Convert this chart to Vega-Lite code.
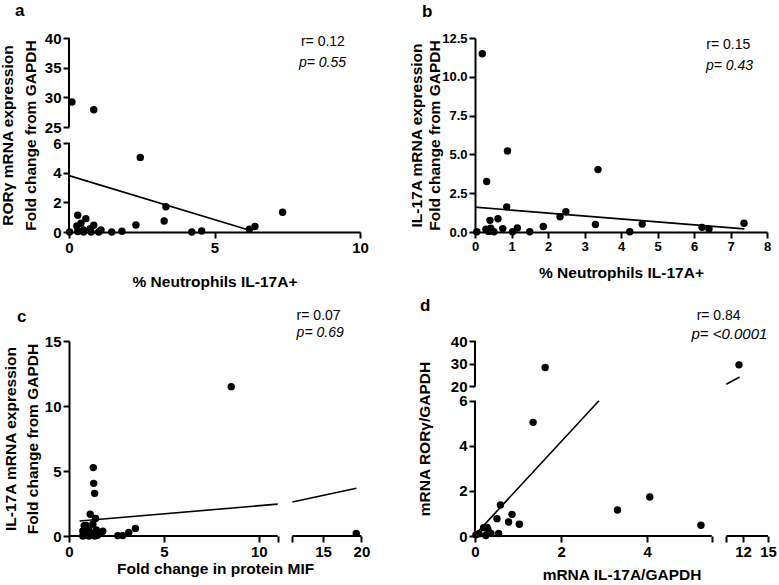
{
  "$schema": "https://vega.github.io/schema/vega-lite/v6.json",
  "padding": {"left": 0, "top": 2, "right": 0, "bottom": 0},
  "background": "white",
  "columns": 2,
  "align": "all",
  "bounds": "flush",
  "spacing": {"column": 113, "row": 108},
  "config": {
    "view": {"stroke": null},
    "font": "Liberation Sans",
    "axis": {
      "grid": false,
      "domainColor": "black", "domainWidth": 2,
      "tickColor": "black", "tickWidth": 2, "tickSize": 6,
      "labelColor": "black", "labelFont": "Liberation Sans", "labelFontWeight": "bold", "labelFontSize": 15, "labelPadding": 2,
      "labelFlush": false, "labelOverlap": false, "labelBound": false,
      "titleColor": "black", "titleFont": "Liberation Sans", "titleFontWeight": "bold", "titleFontSize": 15.5
    },
    "title": {"anchor": "start", "frame": "group", "fontSize": 17, "fontWeight": "bold", "font": "Liberation Sans", "color": "black"}
  },
  "concat": [
    {
      "width": 291, "height": 194,
      "title": {"text": "a", "dx": -54, "offset": 11},
      "resolve": {"axis": {"x": "independent", "y": "independent"}},
      "layer": [
        {
          "encoding": {
            "x": {"field": "x", "type": "quantitative", "scale": {"domain": [0, 10], "nice": false, "zero": false},
                  "axis": {"values": [0, 5, 10], "title": "% Neutrophils IL-17A+", "titlePadding": 19}},
            "y": {"field": "y", "type": "quantitative", "scale": {"domain": [0, 6, 25, 40], "range": [194, 105, 89, 0], "nice": false, "zero": false},
                  "axis": {"values": [0, 2, 4, 6, 25, 30, 35, 40], "domain": false, "title": ["RORγ mRNA expression", "Fold change from GAPDH"], "titleLineHeight": 23, "titlePadding": 6}}
          },
          "layer": [
            {"data": {"values": [
              {"x": 0.1, "y": 29.2}, {"x": 0.85, "y": 27.9}, {"x": 2.45, "y": 5.03}, {"x": 3.33, "y": 1.7}, {"x": 3.27, "y": 0.74},
              {"x": 7.34, "y": 1.33}, {"x": 6.39, "y": 0.37}, {"x": 6.2, "y": 0.18}, {"x": 4.56, "y": 0.07}, {"x": 4.22, "y": 0},
              {"x": 2.3, "y": 0.47}, {"x": 1.82, "y": 0.05}, {"x": 1.47, "y": 0}, {"x": 1.1, "y": 0.14}, {"x": 1.02, "y": 0},
              {"x": 0.85, "y": 0.45}, {"x": 0.73, "y": 0.23}, {"x": 0.76, "y": 0}, {"x": 0.58, "y": 0.9}, {"x": 0.3, "y": 1.13},
              {"x": 0.41, "y": 0.59}, {"x": 0.27, "y": 0.41}, {"x": 0.5, "y": 0.14}, {"x": 0.3, "y": 0.03}, {"x": 0.02, "y": 0},
              {"x": 0.5, "y": 0}
            ]},
             "mark": {"type": "circle", "color": "black", "size": 55, "opacity": 1}},
            {"data": {"values": [{"x": 0, "y": 3.8}, {"x": 6.15, "y": 0.15}]},
             "mark": {"type": "line", "color": "black", "strokeWidth": 1.6}}
          ]
        },
        {"data": {"values": [{"seg": "lower"}]}, "mark": {"type": "rule", "color": "black", "strokeWidth": 2},
         "encoding": {"x": {"datum": 0, "axis": null}, "y": {"datum": 0, "axis": null}, "y2": {"datum": 6}}},
        {"data": {"values": [{"seg": "upper"}]}, "mark": {"type": "rule", "color": "black", "strokeWidth": 2},
         "encoding": {"x": {"datum": 0, "axis": null}, "y": {"datum": 25, "axis": null}, "y2": {"datum": 40}}},
        {"data": {"values": [{"t": "r= 0.12"}]}, "mark": {"type": "text", "align": "left", "baseline": "middle", "fontSize": 14, "font": "Liberation Sans", "fill": "black"},
         "encoding": {"x": {"datum": 7.97, "axis": null}, "y": {"datum": 39.37, "axis": null}, "text": {"field": "t", "type": "nominal"}}},
        {"data": {"values": [{"t": "p= 0.55"}]}, "mark": {"type": "text", "align": "left", "baseline": "middle", "fontSize": 14, "font": "Liberation Sans", "fontStyle": "italic", "fill": "black"},
         "encoding": {"x": {"datum": 7.9, "axis": null}, "y": {"datum": 35.8, "axis": null}, "text": {"field": "t", "type": "nominal"}}}
      ]
    },
    {
      "width": 292, "height": 194,
      "title": {"text": "b", "dx": -53, "offset": 11},
      "resolve": {"axis": {"x": "independent", "y": "independent"}},
      "layer": [
        {
          "encoding": {
            "x": {"field": "x", "type": "quantitative", "scale": {"domain": [0, 8], "nice": false, "zero": false},
                  "axis": {"values": [0, 1, 2, 3, 4, 5, 6, 7, 8], "labelFontSize": 13, "title": "% Neutrophils IL-17A+", "titlePadding": 12}},
            "y": {"field": "y", "type": "quantitative", "scale": {"domain": [0, 12.5], "nice": false, "zero": false},
                  "axis": {"values": [0, 2.5, 5, 7.5, 10, 12.5], "format": ".1f", "labelFontSize": 13, "title": ["IL-17A mRNA expression", "Fold change from GAPDH"], "titleLineHeight": 18, "titlePadding": -1}}
          },
          "layer": [
            {"data": {"values": [
              {"x": 0.2, "y": 11.49}, {"x": 0.89, "y": 5.22}, {"x": 0.32, "y": 3.25}, {"x": 3.37, "y": 4.02}, {"x": 0.87, "y": 1.62},
              {"x": 2.49, "y": 1.31}, {"x": 2.33, "y": 0.98}, {"x": 3.3, "y": 0.49}, {"x": 4.58, "y": 0.51}, {"x": 4.24, "y": 0.02},
              {"x": 6.22, "y": 0.3}, {"x": 6.41, "y": 0.2}, {"x": 7.37, "y": 0.56}, {"x": 1.87, "y": 0.35}, {"x": 1.5, "y": 0.02},
              {"x": 1.16, "y": 0.26}, {"x": 1.03, "y": 0.02}, {"x": 0.63, "y": 0.85}, {"x": 0.41, "y": 0.75}, {"x": 0.76, "y": 0.22},
              {"x": 0.3, "y": 0.18}, {"x": 0.43, "y": 0.24}, {"x": 0.52, "y": 0.02}, {"x": 0.05, "y": 0.02}, {"x": 0.37, "y": 0.04}
            ]},
             "mark": {"type": "circle", "color": "black", "size": 55, "opacity": 1}},
            {"data": {"values": [{"x": 0, "y": 1.6}, {"x": 7.38, "y": 0.2}]},
             "mark": {"type": "line", "color": "black", "strokeWidth": 1.6}}
          ]
        },
        {"data": {"values": [{"t": "r= 0.15"}]}, "mark": {"type": "text", "align": "right", "baseline": "middle", "fontSize": 14, "font": "Liberation Sans", "fill": "black"},
         "encoding": {"x": {"datum": 7.54, "axis": null}, "y": {"datum": 12.03, "axis": null}, "text": {"field": "t", "type": "nominal"}}},
        {"data": {"values": [{"t": "p= 0.43"}]}, "mark": {"type": "text", "align": "right", "baseline": "middle", "fontSize": 14, "font": "Liberation Sans", "fontStyle": "italic", "fill": "black"},
         "encoding": {"x": {"datum": 7.62, "axis": null}, "y": {"datum": 10.68, "axis": null}, "text": {"field": "t", "type": "nominal"}}}
      ]
    },
    {
      "width": 293, "height": 195,
      "title": {"text": "c", "dx": -52, "offset": -17},
      "resolve": {"axis": {"x": "independent", "y": "independent"}},
      "layer": [
        {
          "encoding": {
            "x": {"field": "x", "type": "quantitative", "scale": {"domain": [0, 11, 11.01, 20], "range": [0, 208.7, 223.4, 292.4], "nice": false, "zero": false},
                  "axis": {"values": [0, 5, 10, 11, 11.01, 15, 20], "domain": false, "labelExpr": "datum.value == 11 || datum.value == 11.01 ? '' : datum.label", "title": "Fold change in protein MIF", "titlePadding": 2}},
            "y": {"field": "y", "type": "quantitative", "scale": {"domain": [0, 15], "nice": false, "zero": false},
                  "axis": {"values": [0, 5, 10, 15], "title": ["IL-17A mRNA expression", "Fold change from GAPDH"], "titleLineHeight": 22, "titlePadding": 4}}
          },
          "layer": [
            {"data": {"values": [
              {"x": 8.55, "y": 11.49}, {"x": 1.28, "y": 5.26}, {"x": 1.3, "y": 4.05}, {"x": 1.35, "y": 3.28}, {"x": 1.12, "y": 1.67},
              {"x": 1.4, "y": 1.34}, {"x": 19.33, "y": 0.2}, {"x": 3.5, "y": 0.58}, {"x": 3.15, "y": 0.28}, {"x": 2.83, "y": 0.03},
              {"x": 2.57, "y": 0.03}, {"x": 1.78, "y": 0.36}, {"x": 0.73, "y": 0}, {"x": 0.8, "y": 0.8}, {"x": 0.9, "y": 0.82},
              {"x": 1.26, "y": 0.9}, {"x": 0.73, "y": 0.38}, {"x": 1.05, "y": 0.46}, {"x": 1.44, "y": 0.46}, {"x": 1.05, "y": 0},
              {"x": 1.35, "y": 0}, {"x": 1.61, "y": 0.26}, {"x": 0.94, "y": 0.26}, {"x": 1.2, "y": 0.22}, {"x": 1.5, "y": 0.05},
              {"x": 0.85, "y": 0.1}
            ]},
             "mark": {"type": "circle", "color": "black", "size": 55, "opacity": 1}},
            {"data": {"values": [{"x": 0.56, "y": 1.15, "seg": 1}, {"x": 11, "y": 2.45, "seg": 1}, {"x": 11.01, "y": 2.62, "seg": 2}, {"x": 19.35, "y": 3.67, "seg": 2}]},
             "mark": {"type": "line", "color": "black", "strokeWidth": 1.6},
             "encoding": {"detail": {"field": "seg"}}}
          ]
        },
        {"data": {"values": [{"seg": "left"}]}, "mark": {"type": "rule", "color": "black", "strokeWidth": 2},
         "encoding": {"y": {"datum": 0, "axis": null}, "x": {"datum": 0, "axis": null}, "x2": {"datum": 11}}},
        {"data": {"values": [{"seg": "right"}]}, "mark": {"type": "rule", "color": "black", "strokeWidth": 2},
         "encoding": {"y": {"datum": 0, "axis": null}, "x": {"datum": 11.01, "axis": null}, "x2": {"datum": 20}}},
        {"data": {"values": [{"t": "r= 0.07"}]}, "mark": {"type": "text", "align": "left", "baseline": "middle", "fontSize": 14, "font": "Liberation Sans", "fill": "black"},
         "encoding": {"x": {"datum": 11.56, "axis": null}, "y": {"datum": 16.92, "axis": null}, "text": {"field": "t", "type": "nominal"}}},
        {"data": {"values": [{"t": "p= 0.69"}]}, "mark": {"type": "text", "align": "left", "baseline": "middle", "fontSize": 14, "font": "Liberation Sans", "fontStyle": "italic", "fill": "black"},
         "encoding": {"x": {"datum": 11.56, "axis": null}, "y": {"datum": 15.65, "axis": null}, "text": {"field": "t", "type": "nominal"}}}
      ]
    },
    {
      "width": 293, "height": 195,
      "title": {"text": "d", "dx": -55, "offset": -6},
      "resolve": {"axis": {"x": "independent", "y": "independent"}},
      "layer": [
        {
          "encoding": {
            "x": {"field": "x", "type": "quantitative", "scale": {"domain": [0, 5.5, 10, 15], "range": [0, 236.7, 251.3, 293], "nice": false, "zero": false},
                  "axis": {"values": [0, 2, 4, 5.5, 10, 12, 15], "domain": false, "labelExpr": "datum.value == 5.5 || datum.value == 10 ? '' : datum.label", "title": "mRNA IL-17A/GAPDH", "titlePadding": 8}},
            "y": {"field": "y", "type": "quantitative", "scale": {"domain": [0, 6, 20, 40], "range": [195, 59.7, 45, 0], "nice": false, "zero": false},
                  "axis": {"values": [0, 2, 4, 6, 20, 30, 40], "domain": false, "title": "mRNA RORγ/GAPDH", "titlePadding": 18}}
          },
          "layer": [
            {"data": {"values": [
              {"x": 1.63, "y": 28.2}, {"x": 11.52, "y": 29.4}, {"x": 1.35, "y": 5.04}, {"x": 0.59, "y": 1.38}, {"x": 0.51, "y": 0.77},
              {"x": 0.86, "y": 0.96}, {"x": 0.78, "y": 0.62}, {"x": 1.03, "y": 0.52}, {"x": 0.55, "y": 0.11}, {"x": 3.31, "y": 1.15},
              {"x": 4.06, "y": 1.73}, {"x": 5.25, "y": 0.48}, {"x": 0.02, "y": 0.05}, {"x": 0.09, "y": 0.1}, {"x": 0.2, "y": 0.37},
              {"x": 0.3, "y": 0.28}, {"x": 0.25, "y": 0.02}, {"x": 0.37, "y": 0.11}, {"x": 0.28, "y": 0.38}
            ]},
             "mark": {"type": "circle", "color": "black", "size": 55, "opacity": 1}},
            {"data": {"values": [{"x": 0, "y": 0.05, "seg": 1}, {"x": 2.88, "y": 6.02, "seg": 1}, {"x": 10, "y": 20.75, "seg": 2}, {"x": 11.6, "y": 24, "seg": 2}]},
             "mark": {"type": "line", "color": "black", "strokeWidth": 1.6},
             "encoding": {"detail": {"field": "seg"}}}
          ]
        },
        {"data": {"values": [{"seg": "xleft"}]}, "mark": {"type": "rule", "color": "black", "strokeWidth": 2},
         "encoding": {"y": {"datum": 0, "axis": null}, "x": {"datum": 0, "axis": null}, "x2": {"datum": 5.5}}},
        {"data": {"values": [{"seg": "xright"}]}, "mark": {"type": "rule", "color": "black", "strokeWidth": 2},
         "encoding": {"y": {"datum": 0, "axis": null}, "x": {"datum": 10, "axis": null}, "x2": {"datum": 15}}},
        {"data": {"values": [{"seg": "ylower"}]}, "mark": {"type": "rule", "color": "black", "strokeWidth": 2},
         "encoding": {"x": {"datum": 0, "axis": null}, "y": {"datum": 0, "axis": null}, "y2": {"datum": 6}}},
        {"data": {"values": [{"seg": "yupper"}]}, "mark": {"type": "rule", "color": "black", "strokeWidth": 2},
         "encoding": {"x": {"datum": 0, "axis": null}, "y": {"datum": 20, "axis": null}, "y2": {"datum": 40}}},
        {"data": {"values": [{"t": "r= 0.84"}]}, "mark": {"type": "text", "align": "left", "baseline": "middle", "fontSize": 14, "font": "Liberation Sans", "fill": "black"},
         "encoding": {"x": {"datum": 5.15, "axis": null}, "y": {"datum": 51.1, "axis": null}, "text": {"field": "t", "type": "nominal"}}},
        {"data": {"values": [{"t": "p= <0.0001"}]}, "mark": {"type": "text", "align": "left", "baseline": "middle", "fontSize": 15, "font": "Liberation Sans", "fontStyle": "italic", "fill": "black"},
         "encoding": {"x": {"datum": 5.03, "axis": null}, "y": {"datum": 43.1, "axis": null}, "text": {"field": "t", "type": "nominal"}}}
      ]
    }
  ]
}
